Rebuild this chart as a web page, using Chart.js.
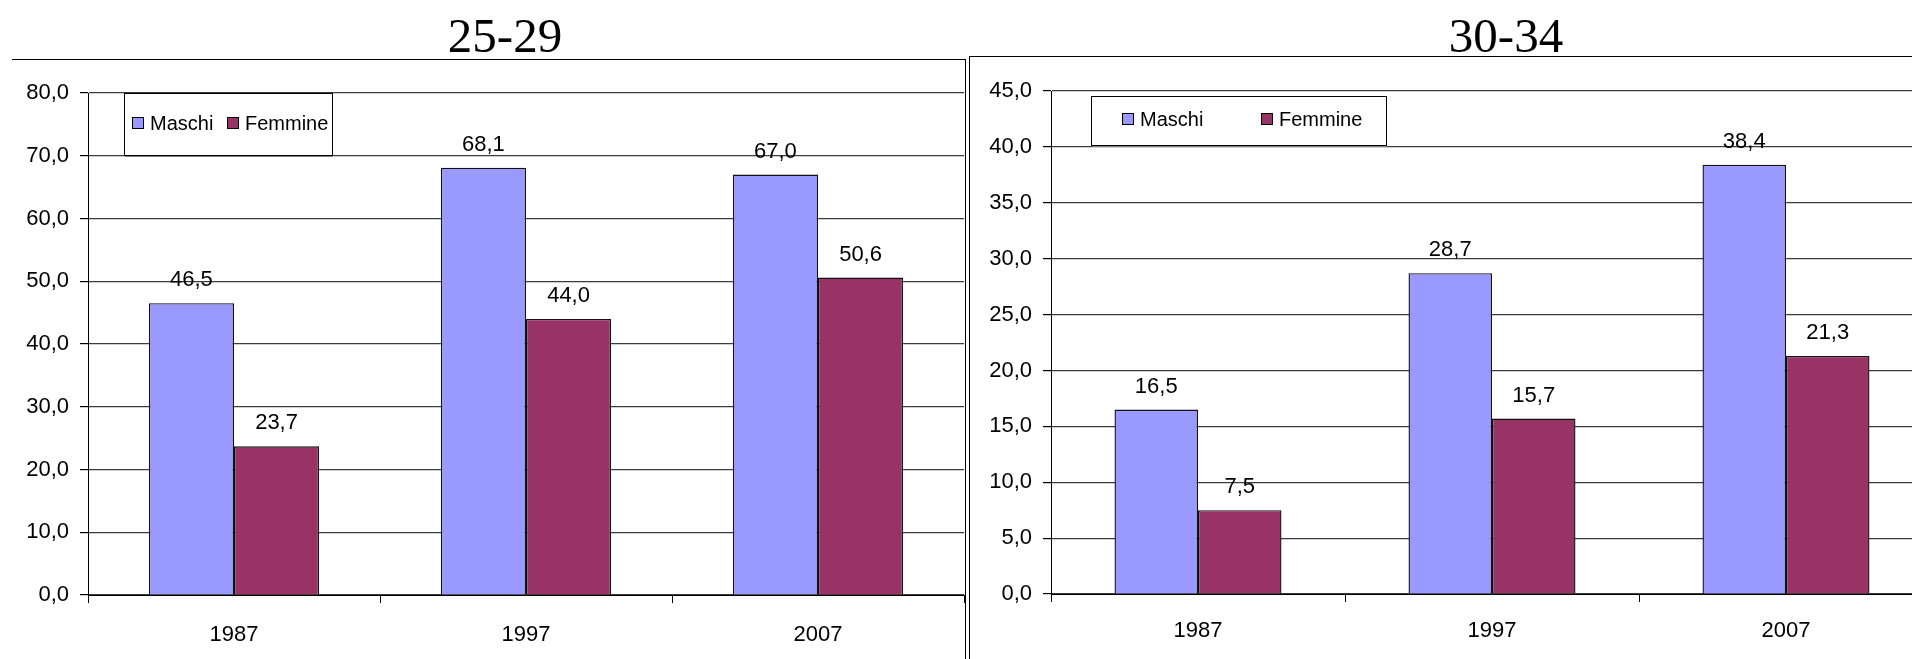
<!DOCTYPE html>
<html>
<head>
<meta charset="utf-8">
<script src="https://cdn.jsdelivr.net/npm/chart.js@4.4.0/dist/chart.umd.min.js"></script>
<style>
  body {
    margin: 0;
    width: 1912px;
    height: 659px;
    overflow: hidden;
    background: #fff;
    position: relative;
  }
  canvas { position: absolute; top: 0; }
  #chartLeft { left: 0; }
  #chartRight { left: 966px; }
  .title {
    position: absolute;
    top: 11px;
    width: 300px;
    margin-left: -150px;
    text-align: center;
    font: 49px/49px "Liberation Serif", "Times New Roman", serif;
    color: #000;
  }
  .frame { position: absolute; border: 0 solid #000; pointer-events: none; }
  #frameLeft { left: 12px; top: 59px; width: 953px; height: 600px; border-top-width: 1px; border-right-width: 1px; }
  #frameRight { left: 969px; top: 56px; width: 943px; height: 603px; border-top-width: 1px; border-left-width: 1px; }
</style>
</head>
<body>
<div class="title" style="left:505px">25-29</div>
<div class="title" style="left:1506px">30-34</div>
<canvas id="chartLeft" width="966" height="659"></canvas>
<canvas id="chartRight" width="968" height="659"></canvas>
<div class="frame" id="frameLeft"></div>
<div class="frame" id="frameRight"></div>
<script>
// data
var years = ['1987', '1997', '2007'];
var seriesNames = ['Maschi', 'Femmine'];
var seriesColors = ['#9999FF', '#993366'];

var maschi2529 = [46.5, 68.1, 67.0];
var femmine2529 = [23.7, 44.0, 50.6];

var maschi3034 = [16.5, 28.7, 38.4];
var femmine3034 = [7.5, 15.7, 21.3];

Chart.defaults.font.family = '"Liberation Sans", Arial, sans-serif';
Chart.defaults.color = '#000';

// numbers with a comma, like the Italian original
function fmt(v) {
  return Number(v).toFixed(1).replace('.', ',');
}

// value above each bar
var valueLabels = {
  id: 'valueLabels',
  afterDatasetsDraw: function (chart) {
    var ctx = chart.ctx;
    ctx.save();
    ctx.font = '22px "Liberation Sans", Arial, sans-serif';
    ctx.fillStyle = '#000';
    ctx.textAlign = 'center';
    ctx.textBaseline = 'middle';
    chart.data.datasets.forEach(function (ds, i) {
      chart.getDatasetMeta(i).data.forEach(function (bar, j) {
        ctx.fillText(fmt(ds.data[j]), bar.x, bar.y - 23);
      });
    });
    ctx.restore();
  }
};

// boxed legend sitting inside the plot, top left
var boxLegend = {
  id: 'boxLegend',
  afterDraw: function (chart, args, opts) {
    var ctx = chart.ctx;
    var area = chart.chartArea;
    var x = Math.round(area.left + opts.dx);
    var y = Math.round(area.top + opts.dy);

    ctx.save();
    ctx.fillStyle = '#fff';
    ctx.fillRect(x, y, opts.w, opts.h);
    ctx.fillStyle = '#808080';
    ctx.fillRect(x + 1, y + opts.h, opts.w, 2);
    ctx.strokeStyle = '#000';
    ctx.lineWidth = 1;
    ctx.strokeRect(x + 0.5, y + 0.5, opts.w, opts.h);

    ctx.font = '20px "Liberation Sans", Arial, sans-serif';
    ctx.textAlign = 'left';
    ctx.textBaseline = 'middle';
    chart.data.datasets.forEach(function (ds, i) {
      var sx = x + opts.items[i];
      var sy = y + opts.mid - 6;
      ctx.fillStyle = ds.backgroundColor;
      ctx.fillRect(sx, sy, 12, 12);
      ctx.strokeStyle = '#000';
      ctx.strokeRect(sx + 0.5, sy + 0.5, 11, 11);
      ctx.fillStyle = '#000';
      ctx.fillText(ds.label, sx + 18, y + opts.mid + 1);
    });
    ctx.restore();
  }
};

function makeChart(canvasId, maschi, femmine, yMax, yStep, geo) {
  var ctx = document.getElementById(canvasId).getContext('2d');

  return new Chart(ctx, {
    type: 'bar',
    data: {
      labels: years,
      datasets: [
        {
          label: seriesNames[0],
          data: maschi,
          backgroundColor: seriesColors[0],
          borderColor: '#111',
          borderWidth: 1.4
        },
        {
          label: seriesNames[1],
          data: femmine,
          backgroundColor: seriesColors[1],
          borderColor: '#111',
          borderWidth: 1.4
        }
      ]
    },
    options: {
      responsive: false,
      animation: false,
      devicePixelRatio: 1,
      categoryPercentage: geo.catPct,
      barPercentage: 1,
      layout: {
        padding: { top: geo.top, right: geo.right, left: 0, bottom: 0 }
      },
      plugins: {
        legend: { display: false },
        tooltip: { enabled: false },
        boxLegend: geo.legend
      },
      scales: {
        x: {
          grid: {
            display: true,
            drawOnChartArea: false,
            drawTicks: true,
            tickLength: 8,
            color: '#000'
          },
          border: { display: true, color: '#000', width: 1 },
          ticks: {
            font: { size: 22 },
            color: '#000',
            padding: geo.xPad
          },
          afterFit: function (scale) {
            scale.height = geo.xHeight;
          }
        },
        y: {
          min: 0,
          max: yMax,
          ticks: {
            stepSize: yStep,
            font: { size: 22 },
            color: '#000',
            padding: 11,
            callback: function (v) { return fmt(v); }
          },
          grid: {
            color: '#3c3c3c',
            lineWidth: 1.2,
            tickLength: 8,
            tickColor: '#000'
          },
          border: { display: true, color: '#000', width: 1 },
          afterFit: function (scale) {
            scale.width = geo.yWidth;
          }
        }
      }
    },
    plugins: [valueLabels, boxLegend]
  });
}

makeChart('chartLeft', maschi2529, femmine2529, 80, 10, {
  top: 93, right: 2, yWidth: 88, xHeight: 64, xPad: 19, catPct: 0.583,
  legend: { dx: 36, dy: 0, w: 208, h: 62, mid: 30, items: [8, 103] }
});

makeChart('chartRight', maschi3034, femmine3034, 45, 5, {
  top: 91, right: 1, yWidth: 85, xHeight: 65, xPad: 16, catPct: 0.568,
  legend: { dx: 40, dy: 5, w: 295, h: 49, mid: 23, items: [31, 170] }
});
</script>
</body>
</html>
